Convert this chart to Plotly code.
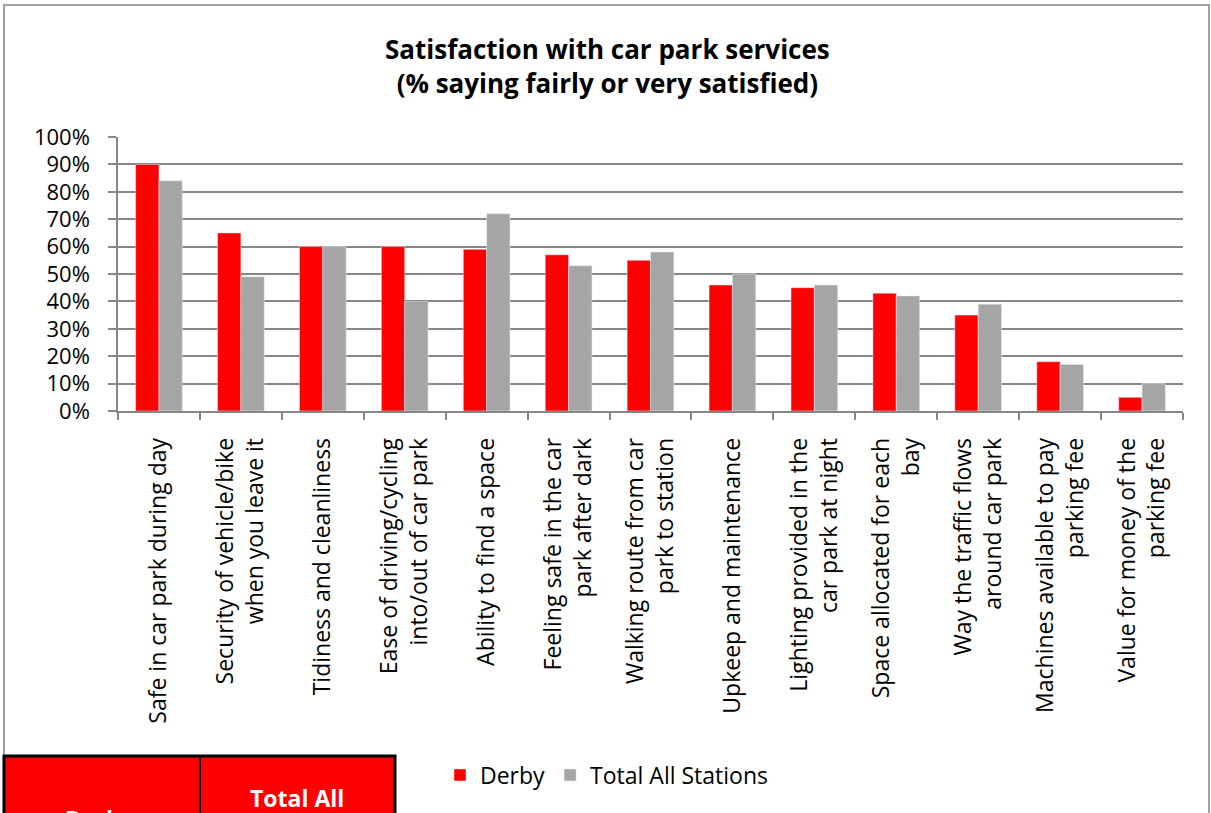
import plotly.graph_objects as go

CATEGORIES = [
    "Safe in car park during day",
    "Security of vehicle/bike<br>when you leave it",
    "Tidiness and cleanliness",
    "Ease of driving/cycling<br>into/out of car park",
    "Ability to find a space",
    "Feeling safe in the car<br>park after dark",
    "Walking route from car<br>park to station",
    "Upkeep and maintenance",
    "Lighting provided in the<br>car park at night",
    "Space allocated for each<br>bay",
    "Way the traffic flows<br>around car park",
    "Machines available to pay<br>parking fee",
    "Value for money of the<br>parking fee",
]
DERBY = [0.90, 0.65, 0.60, 0.60, 0.59, 0.57, 0.55, 0.46, 0.45, 0.43, 0.35, 0.18, 0.05]
TOTAL_ALL = [0.84, 0.49, 0.60, 0.40, 0.72, 0.53, 0.58, 0.50, 0.46, 0.42, 0.39, 0.17, 0.10]

W, H = 1211, 813
PLOT_LEFT, PLOT_RIGHT, PLOT_TOP, PLOT_BOTTOM = 118, 1183, 137, 411
FONT = "Open Sans"


def px_x(px):
    return (px - PLOT_LEFT) / (PLOT_RIGHT - PLOT_LEFT)


def px_y(py):
    return (PLOT_BOTTOM - py) / (PLOT_BOTTOM - PLOT_TOP)


fig = go.Figure()
fig.add_trace(go.Bar(x=CATEGORIES, y=DERBY, name="Derby", marker_color="#FF0000"))
fig.add_trace(go.Bar(x=CATEGORIES, y=TOTAL_ALL, name="Total All Stations", marker_color="#A5A5A5"))

shapes = [
    # chart area border
    dict(type="rect", xref="paper", yref="paper", x0=px_x(4), x1=px_x(1209), y0=px_y(840), y1=px_y(5),
         line=dict(color="#A0A0A0", width=2), fillcolor="rgba(0,0,0,0)", layer="below"),
    # table fragment
    dict(type="rect", xref="paper", yref="paper", x0=px_x(4), x1=px_x(395), y0=px_y(850), y1=px_y(756),
         line=dict(color="black", width=3), fillcolor="#FF0000"),
    dict(type="line", xref="paper", yref="paper", x0=px_x(200), x1=px_x(200), y0=px_y(850), y1=px_y(756),
         line=dict(color="black", width=2)),
]

annotations = [
    dict(text="<b>Satisfaction with car park services<br>(% saying fairly or very satisfied)</b>",
         xref="paper", yref="paper", x=px_x(607), y=px_y(66), xanchor="center", yanchor="middle",
         showarrow=False, font=dict(family=FONT, size=26, color="black")),
    dict(text="<b>Total All</b>", xref="paper", yref="paper", x=px_x(297), y=px_y(798),
         xanchor="center", yanchor="middle", showarrow=False,
         font=dict(family=FONT, size=23, color="white")),
    dict(text="<b>Derby</b>", xref="paper", yref="paper", x=px_x(100), y=px_y(819),
         xanchor="center", yanchor="middle", showarrow=False,
         font=dict(family=FONT, size=23, color="white")),
]

fig.update_layout(
    width=W,
    height=H,
    margin=dict(l=PLOT_LEFT, r=W - PLOT_RIGHT, t=PLOT_TOP, b=H - PLOT_BOTTOM),
    paper_bgcolor="white",
    plot_bgcolor="white",
    barmode="group",
    bargap=0.43,
    bargroupgap=0,
    font=dict(family=FONT, size=22, color="black"),
    shapes=shapes,
    annotations=annotations,
    legend=dict(orientation="h", x=px_x(440), y=px_y(775), xanchor="left", yanchor="middle",
                font=dict(family=FONT, size=23), itemwidth=30, traceorder="normal"),
)
fig.update_xaxes(
    tickangle=-90,
    tickson="boundaries",
    ticks="outside",
    ticklen=7,
    tickcolor="#868686",
    tickwidth=1.5,
    ticklabelstandoff=16,
    showline=True,
    linecolor="#868686",
    linewidth=1.5,
    showgrid=False,
    tickfont=dict(family=FONT, size=23),
)
fig.update_yaxes(
    range=[0, 1],
    dtick=0.1,
    tickformat=".0%",
    ticks="outside",
    ticklen=8,
    tickcolor="#868686",
    tickwidth=1.5,
    ticklabelstandoff=14,
    showline=True,
    linecolor="#868686",
    linewidth=1.5,
    showgrid=True,
    gridcolor="#868686",
    gridwidth=1.5,
    zeroline=False,
    tickfont=dict(family=FONT, size=22),
)

fig.write_html(
    "out.html",
    config={"displayModeBar": False},
    post_script="document.body.style.margin = '0';",
)
